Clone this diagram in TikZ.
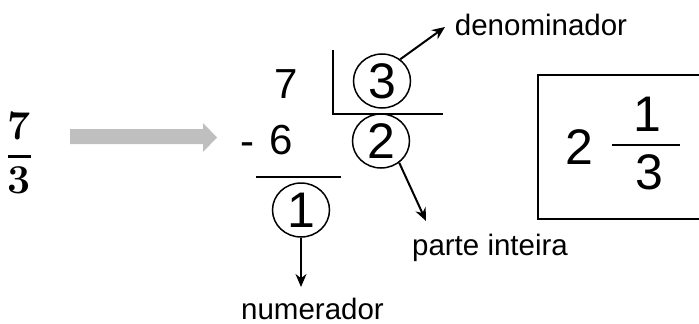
\documentclass[tikz,border=0pt]{standalone}
\usepackage{fontspec}
\usetikzlibrary{arrows.meta,shapes.geometric}
\newfontfamily\helv{Liberation Sans}

\begin{document}
\begin{tikzpicture}[x=1pt,y=-1pt,>={Stealth[length=13pt,width=11pt]},line width=2pt,
        big digit/.style={inner sep=0pt,font=\helv\fontsize{42}{42}\selectfont},
        circ node/.style={ellipse,draw,line width=1.5pt,minimum width=57pt,minimum height=54pt,inner sep=0pt,font=\helv\fontsize{50}{50}\selectfont},
        box digit/.style={inner sep=0pt,font=\helv\fontsize{50}{50}\selectfont},
        label node/.style={inner sep=0pt,font=\helv\fontsize{29.5}{29.5}\selectfont},
        frac digit/.style={inner sep=0pt,font=\bfseries\fontsize{41}{41}\selectfont}]
                \useasboundingbox (0,0) rectangle (699,324);

                % fraction and grey arrow
                \node[frac digit] (f7) at (19.5,125.5) {7};
                \node[frac digit] (f3) at (19.5,180) {3};
                \draw[line width=3pt] (8,156) -- (31,156);
                \fill[black!25] (70,129) -- (203,129) -- (203,123) -- (217,137.5) -- (203,152) -- (203,144) -- (70,144) -- cycle;

                % division
                \node[big digit] (seven) at (286.5,84) {7};
                \node[big digit] (six) at (281.5,140) {6};
                \node[big digit,anchor=base west] (minus) at (239,155) {-};
                \draw (256,177) -- (341,177);
                \draw (333,50) -- (333,114) -- (443,114);
                \node[circ node] (c3) at (382,81) {3};
                \node[circ node] (c2) at (381,141) {2};
                \node[circ node] (c1) at (301,210) {1};

                % mixed number
                \draw[line width=2.5pt] (538,75) rectangle (720,219);
                \node[box digit] (two) at (579.5,147.5) {2};
                \node[box digit] (one) at (647,114.5) {1};
                \node[box digit] (three) at (649,172.5) {3};
                \draw (612,145) -- (680,145);

                \node[label node,anchor=base] (den) at (541,35) {denominador};
                \node[label node,anchor=base] (par) at (490,255) {parte inteira};
                \node[label node,anchor=base] (num) at (312.5,319) {numerador};
                \coordinate (den tip) at (445,27);
                \coordinate (par tip) at (426,221);
                \coordinate (num tip) at (301,287);

                \path[->]
                    (c3.50) edge (den tip)
                    (c2.-50) edge (par tip)
                    (c1) edge (num tip)
                    ;
            \end{tikzpicture}
\end{document}
